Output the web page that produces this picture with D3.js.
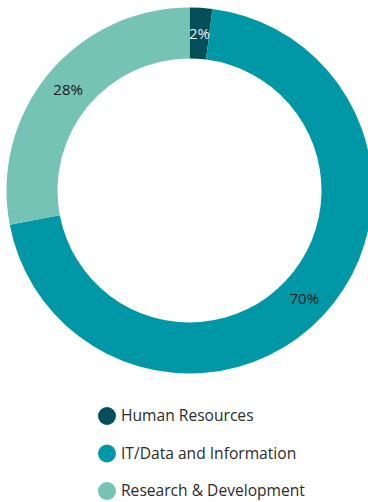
<!DOCTYPE html>
<html><head><meta charset="utf-8">
<script src="https://cdn.jsdelivr.net/npm/d3@7"></script>
<style>html,body{margin:0;padding:0;background:#fff;}svg{display:block;}</style>
</head><body>
<svg id="chart" width="368" height="502"></svg>
<script>
const categories = ["Human Resources", "IT/Data and Information", "Research & Development"];
const values = [2, 70, 28];
const labels = ["2%", "70%", "28%"];
const colors = ["#044f5a", "#0097a7", "#74c3b5"];
const labelColors = ["#e6f2f2", "#1a1a1a", "#1a1a1a"];

const svg = d3.select("#chart");
const cx = 189.5, cy = 190.5, rOuter = 183, rInner = 132;
const pie = d3.pie().sort(null).value(d => d)(values);
const arc = d3.arc().innerRadius(rInner).outerRadius(rOuter);
const g = svg.append("g").attr("transform", `translate(${cx},${cy})`);
g.selectAll("path").data(pie).join("path")
  .attr("d", arc).attr("fill", (d,i) => colors[i]);
g.selectAll("text").data(pie).join("text")
  .attr("transform", d => `translate(${arc.centroid(d)})`)
  .attr("text-anchor", "middle").attr("dy", "0.35em")
  .attr("font-family", "'Open Sans', sans-serif").attr("font-size", 15)
  .attr("fill", (d,i) => labelColors[i])
  .text((d,i) => labels[i]);

const y = d3.scalePoint().domain(categories).range([416, 491]);
const lg = svg.append("g");
const items = lg.selectAll("g").data(categories).join("g")
  .attr("transform", d => `translate(107,${y(d)})`);
items.append("circle").attr("r", 9).attr("fill", (d,i) => colors[i]);
items.append("text").attr("x", 14).attr("dy", "0.35em")
  .attr("font-family", "'Open Sans', sans-serif").attr("font-size", 15.6)
  .attr("fill", "#2b2b2b").text(d => d);
</script>
</body></html>
